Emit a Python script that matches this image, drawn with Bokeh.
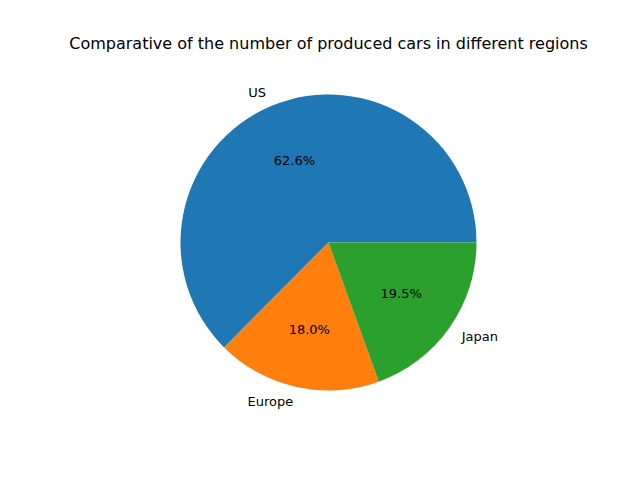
import numpy as np
from bokeh.plotting import figure
from bokeh.models import Range1d
from bokeh.core.properties import value
from bokeh.embed import file_html
from bokeh.resources import INLINE

regions = ["US", "Europe", "Japan"]
shares = [62.6, 18.0, 19.5]
colors = ["#1f77b4", "#ff7f0e", "#2ca02c"]
title = "Comparative of the number of produced cars in different regions"

W, H = 624, 464
cx, cy, r = 328, 222, 148
font = value("DejaVu Sans")

p = figure(width=W, height=H, output_backend="svg", toolbar_location=None,
           x_range=Range1d(0, W), y_range=Range1d(0, H), min_border=0)
p.axis.visible = False
p.grid.visible = False
p.outline_line_color = None

vals = np.array(shares) / sum(shares)
ends = np.cumsum(vals) * 2 * np.pi
starts = np.concatenate([[0], ends[:-1]])
mids = (starts + ends) / 2

p.wedge(x=cx, y=cy, radius=r, start_angle=starts, end_angle=ends,
        fill_color=colors, line_color=None)

lx = cx + 1.1 * r * np.cos(mids)
ly = cy + 1.1 * r * np.sin(mids)
align = ["left" if np.cos(m) > 0 else "right" for m in mids]
p.text(x=lx, y=ly, text=regions, text_align=align, text_baseline="middle",
       text_font=font, text_font_size="13px", text_color="black")

px = cx + 0.6 * r * np.cos(mids)
py = cy + 0.6 * r * np.sin(mids)
p.text(x=px, y=py, text=[f"{s:.1f}%" for s in shares], text_align="center",
       text_baseline="middle", text_font=font, text_font_size="13px", text_color="black")

p.text(x=[328], y=[H - 43], text=[title], text_align="center",
       text_baseline="middle", text_font=font, text_font_size="16px", text_color="black")

open("out.html", "w").write(file_html(p, INLINE))
